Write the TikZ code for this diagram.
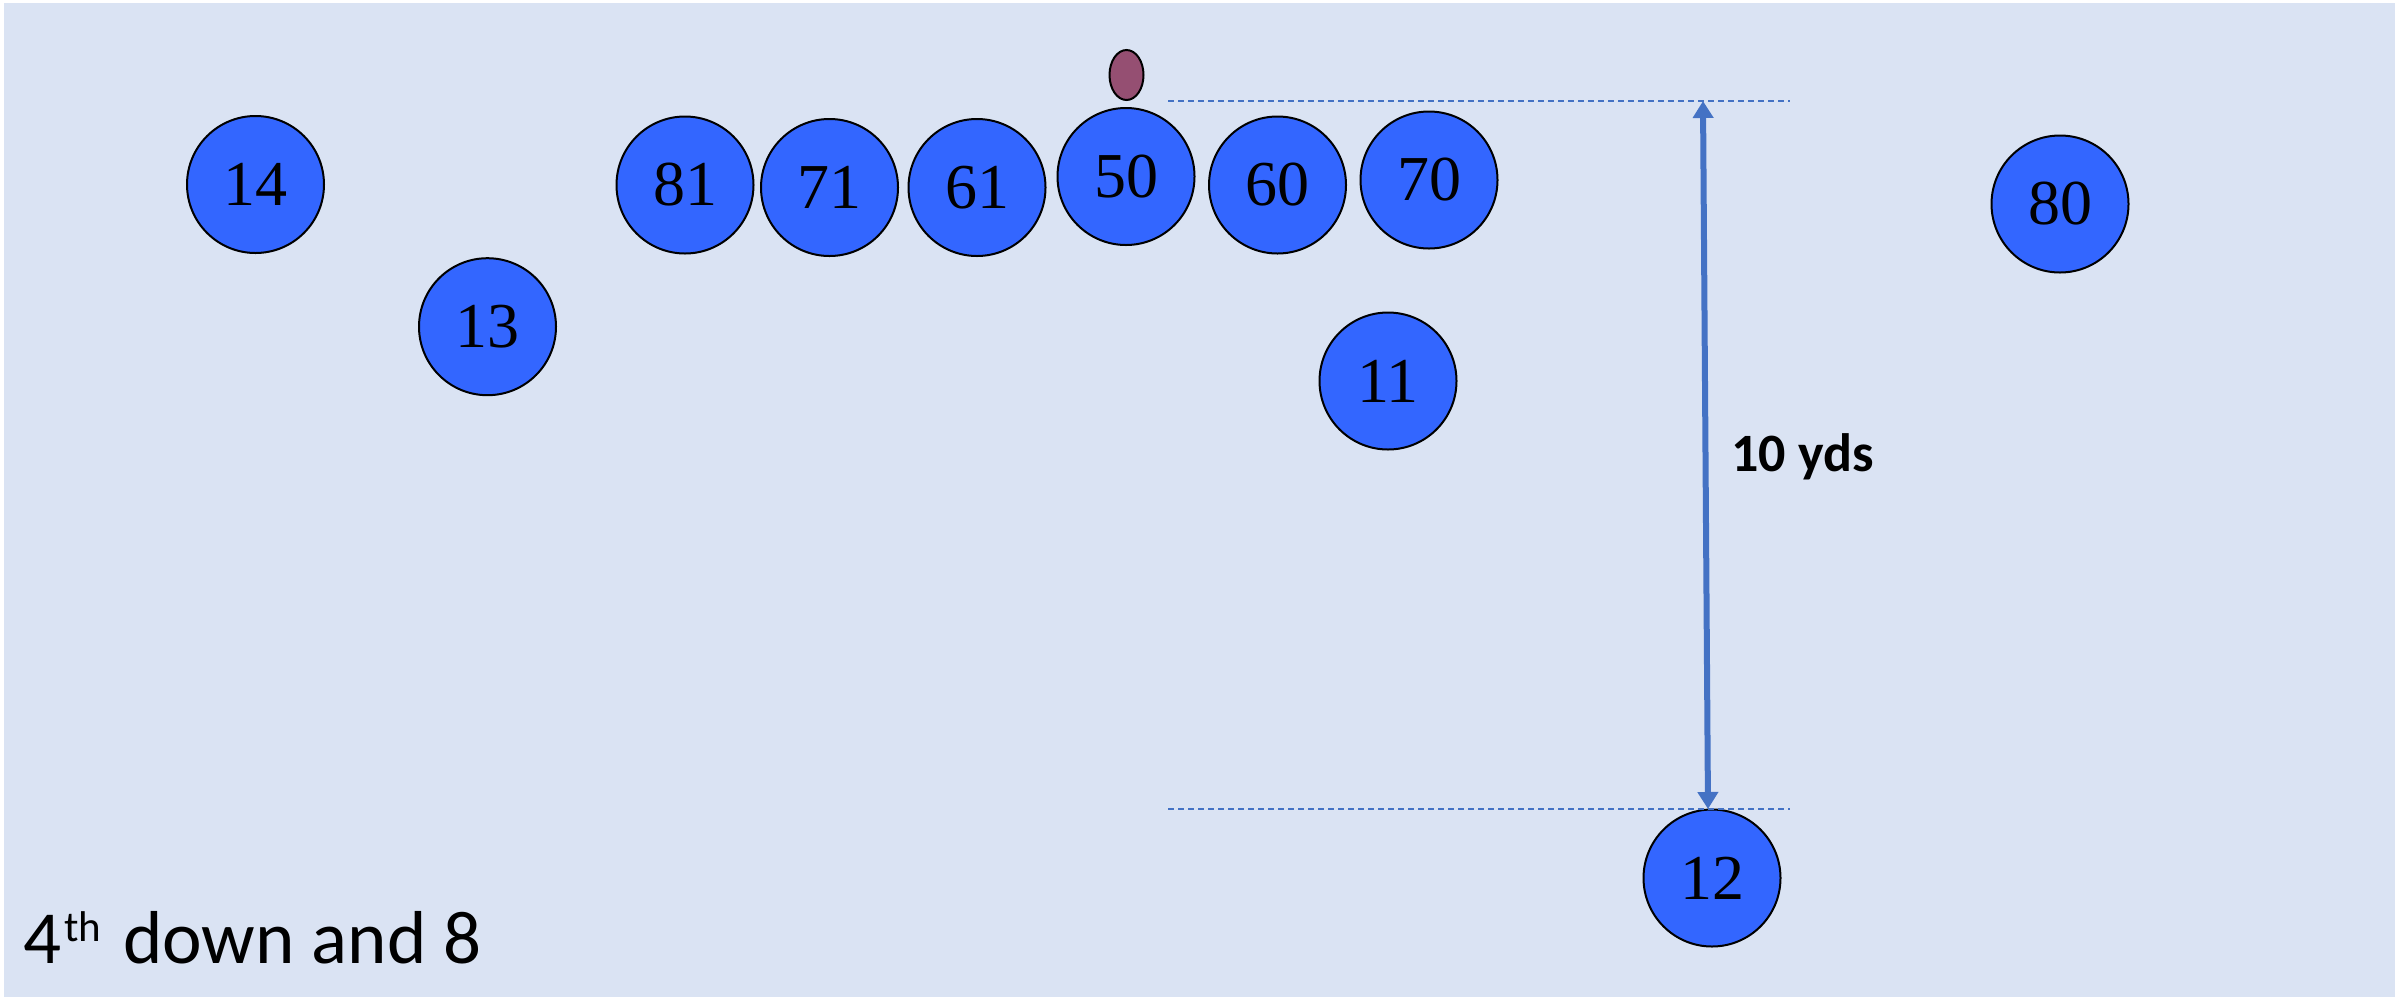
\documentclass[tikz,border=0pt]{standalone}
\usepackage{fontspec}
\setmainfont{Liberation Serif}
\newfontfamily\calibri{Carlito}
\usetikzlibrary{shapes.geometric,arrows.meta}
\definecolor{bgblue}{HTML}{DAE3F3}
\definecolor{playerblue}{HTML}{3366FF}
\definecolor{linkblue}{HTML}{4472C4}
\definecolor{ballcol}{HTML}{954F72}
\begin{document}
\begin{tikzpicture}[x=1pt,y=-1pt,
  player/.style={circle,draw=black,line width=2pt,fill=playerblue,minimum size=137pt,inner sep=0pt,font=\fontsize{64}{64}\selectfont},
  ballshape/.style={ellipse,draw=black,line width=2pt,fill=ballcol,minimum width=34pt,minimum height=50pt,inner sep=0pt},
  yardline/.style={linkblue,line width=1.5pt,dash pattern=on 6pt off 4pt},
  measure/.style={linkblue,line width=6pt,{Triangle[width=20pt,length=17pt]}-{Triangle[width=20pt,length=17pt]}}
]
\useasboundingbox (0,0) rectangle (2404,997);
\fill[white] (0,0) rectangle (2404,997);
\fill[bgblue] (4,3) rectangle (2395,997);

\node[player] (p14) at (255.5,184.5) {14};
\node[player] (p13) at (487.5,326.7) {13};
\node[player] (p81) at (685,185) {81};
\node[player] (p71) at (829.5,187.5) {71};
\node[player] (p61) at (977,187.5) {61};
\node[player] (p50) at (1126,176.5) {50};
\node[player] (p60) at (1277.5,185) {60};
\node[player] (p70) at (1429,180) {70};
\node[player] (p11) at (1388,381) {11};
\node[player] (p80) at (2060,204) {80};
\node[player] (p12) at (1712,878) {12};

\node[ballshape] (ball) at (1126.5,75) {};

\coordinate (topL) at (1168,101);
\coordinate (topR) at (1790,101);
\coordinate (botL) at (1168,809);
\coordinate (botR) at (1790,809);
\coordinate (arrTop) at (1703,101);
\coordinate (arrBot) at (1708,809);

\draw[yardline] (topL) -- (topR);
\draw[yardline] (botL) -- (botR);
\draw[measure] (arrTop) -- (arrBot);

\node[anchor=base west,inner sep=0pt,font=\calibri\bfseries\fontsize{54}{54}\selectfont] (yds) at (1731,471) {10 yds};
\node[anchor=base west,inner sep=0pt,font=\calibri\fontsize{75}{75}\selectfont] (down) at (23,963) {4\hspace{3pt}{\fontsize{43}{43}\selectfont\raisebox{21.6pt}{th}}\hspace{5pt} down and 8};
\end{tikzpicture}
\end{document}
